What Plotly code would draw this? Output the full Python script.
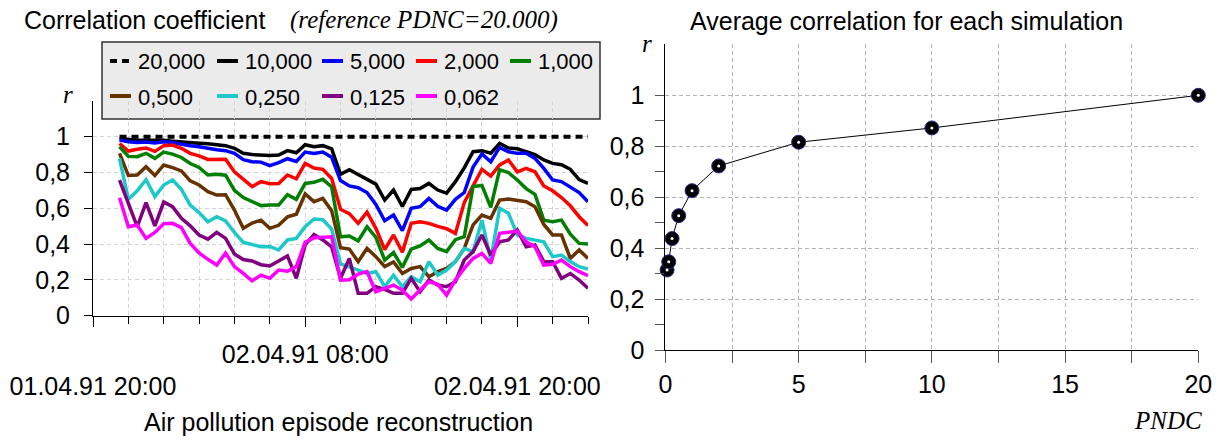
import pandas as pd
import plotly.graph_objects as go

W, H = 1218, 440

# ---------------------------------------------------------------- data
# half-hourly time stamps of the reconstructed episode
times = pd.date_range("1991-04-01 21:30", periods=54, freq="30min")

# correlation with the reference run (PDNC = 20.000) for each PDNC setting
r_20000 = [1.0] * 27 + [1.0] * 27
r_10000 = [0.990, 0.985, 0.980, 0.980, 0.980, 0.980, 0.975, 0.970, 0.968, 0.963,
           0.960, 0.955, 0.950, 0.935, 0.907, 0.900, 0.898, 0.895, 0.898, 0.922,
           0.910, 0.955, 0.944, 0.950, 0.932, 0.790, 0.815, 0.790, 0.762, 0.735,
           0.646, 0.702, 0.610, 0.705, 0.710, 0.739, 0.702, 0.685, 0.749, 0.826,
           0.916, 0.922, 0.908, 0.963, 0.937, 0.933, 0.916, 0.900, 0.870, 0.851,
           0.843, 0.818, 0.760, 0.739]
r_5000 = [0.981, 0.972, 0.968, 0.970, 0.965, 0.972, 0.968, 0.957, 0.950, 0.944,
          0.935, 0.927, 0.922, 0.907, 0.872, 0.860, 0.858, 0.838, 0.855, 0.877,
          0.862, 0.914, 0.906, 0.914, 0.885, 0.755, 0.725, 0.715, 0.688, 0.622,
          0.530, 0.562, 0.475, 0.600, 0.609, 0.655, 0.611, 0.590, 0.650, 0.688,
          0.830, 0.904, 0.860, 0.940, 0.916, 0.907, 0.907, 0.879, 0.823, 0.758,
          0.749, 0.721, 0.688, 0.637]
r_2000 = [0.962, 0.920, 0.930, 0.937, 0.918, 0.950, 0.953, 0.935, 0.907, 0.893,
          0.873, 0.874, 0.874, 0.804, 0.765, 0.721, 0.749, 0.737, 0.739, 0.786,
          0.765, 0.851, 0.825, 0.818, 0.767, 0.595, 0.570, 0.516, 0.579, 0.488,
          0.370, 0.451, 0.355, 0.516, 0.525, 0.516, 0.499, 0.486, 0.460, 0.632,
          0.725, 0.818, 0.780, 0.842, 0.870, 0.804, 0.823, 0.804, 0.725, 0.698,
          0.660, 0.614, 0.553, 0.504]
r_1000 = [0.944, 0.890, 0.888, 0.907, 0.879, 0.914, 0.903, 0.884, 0.850, 0.828,
          0.786, 0.790, 0.785, 0.700, 0.660, 0.640, 0.615, 0.618, 0.618, 0.676,
          0.650, 0.739, 0.745, 0.762, 0.720, 0.441, 0.445, 0.418, 0.497, 0.437,
          0.311, 0.353, 0.270, 0.372, 0.390, 0.423, 0.376, 0.358, 0.425, 0.441,
          0.722, 0.728, 0.605, 0.816, 0.800, 0.758, 0.710, 0.678, 0.534, 0.525,
          0.534, 0.455, 0.404, 0.400]
r_500 = [0.907, 0.783, 0.786, 0.832, 0.783, 0.842, 0.827, 0.809, 0.753, 0.730,
         0.693, 0.674, 0.676, 0.590, 0.488, 0.518, 0.534, 0.488, 0.505, 0.552,
         0.567, 0.680, 0.637, 0.655, 0.587, 0.380, 0.372, 0.302, 0.376, 0.330,
         0.274, 0.300, 0.236, 0.264, 0.274, 0.218, 0.246, 0.264, 0.302, 0.376,
         0.507, 0.562, 0.544, 0.646, 0.652, 0.646, 0.637, 0.609, 0.510, 0.451,
         0.451, 0.320, 0.367, 0.320]
r_250 = [0.879, 0.650, 0.698, 0.760, 0.665, 0.730, 0.758, 0.706, 0.618, 0.576,
         0.525, 0.553, 0.530, 0.465, 0.410, 0.397, 0.385, 0.387, 0.367, 0.423,
         0.432, 0.497, 0.540, 0.536, 0.484, 0.290, 0.274, 0.255, 0.236, 0.246,
         0.162, 0.227, 0.162, 0.218, 0.190, 0.302, 0.227, 0.255, 0.302, 0.376,
         0.358, 0.534, 0.311, 0.600, 0.572, 0.451, 0.432, 0.423, 0.413, 0.330,
         0.339, 0.302, 0.274, 0.261]
r_125 = [0.758, 0.628, 0.497, 0.632, 0.502, 0.635, 0.609, 0.544, 0.502, 0.451,
         0.428, 0.466, 0.432, 0.345, 0.314, 0.306, 0.285, 0.278, 0.306, 0.334,
         0.209, 0.395, 0.454, 0.423, 0.385, 0.209, 0.320, 0.125, 0.125, 0.162,
         0.147, 0.125, 0.125, 0.209, 0.134, 0.199, 0.171, 0.162, 0.190, 0.311,
         0.358, 0.451, 0.339, 0.413, 0.423, 0.479, 0.385, 0.395, 0.302, 0.302,
         0.209, 0.236, 0.199, 0.153]
r_062 = [0.659, 0.497, 0.507, 0.432, 0.465, 0.514, 0.516, 0.492, 0.404, 0.350,
         0.315, 0.283, 0.350, 0.274, 0.236, 0.195, 0.227, 0.209, 0.255, 0.248,
         0.274, 0.410, 0.435, 0.438, 0.441, 0.199, 0.201, 0.232, 0.246, 0.134,
         0.153, 0.171, 0.143, 0.093, 0.143, 0.190, 0.175, 0.115, 0.199, 0.264,
         0.320, 0.348, 0.292, 0.460, 0.466, 0.473, 0.413, 0.385, 0.283, 0.287,
         0.311, 0.274, 0.246, 0.223]

series_names = ["20,000", "10,000", "5,000", "2,000", "1,000",
                "0,500", "0,250", "0,125", "0,062"]
series_values = [r_20000, r_10000, r_5000, r_2000, r_1000,
                 r_500, r_250, r_125, r_062]

# time-axis labels
label_times = ["1991-04-01 20:00", "1991-04-02 08:00", "1991-04-02 20:00"]
tick_labels = ["01.04.91 20:00", "02.04.91 08:00", "02.04.91 20:00"]

# average correlation of every simulation
pndc = [0.062, 0.125, 0.25, 0.5, 1, 2, 5, 10, 20]
avg_r = [0.315, 0.347, 0.438, 0.528, 0.626, 0.723, 0.816, 0.872, 1.0]

# ---------------------------------------------------------------- styles
colors = ["#000000", "#000000", "#0000ff", "#ff0000", "#008000",
          "#663300", "#1ec8c8", "#800080", "#ff00ff"]
dashes = ["7px,5px"] + ["solid"] * 8
widths = [4] + [3.5] * 8

SANS = "Liberation Sans, Arial, sans-serif"
SERIF = "Liberation Serif, Times New Roman, serif"
FS = 25


def px(x):
    return x / W


def py(y):
    return 1 - y / H


fig = go.Figure()

for name, vals, col, dsh, wd in zip(series_names, series_values, colors, dashes, widths):
    fig.add_trace(go.Scatter(
        x=times, y=vals, name=name, mode="lines",
        line=dict(color=col, width=wd, dash=dsh),
        xaxis="x", yaxis="y", showlegend=False))

fig.add_trace(go.Scatter(
    x=pndc, y=avg_r, mode="lines+markers",
    line=dict(color="#000000", width=1),
    marker=dict(size=14, color="#000000", line=dict(color="#2a2a90", width=1)),
    xaxis="x2", yaxis="y2", showlegend=False, cliponaxis=False))
fig.add_trace(go.Scatter(
    x=pndc, y=avg_r, mode="markers",
    marker=dict(size=3, color="#ffffff"),
    xaxis="x2", yaxis="y2", showlegend=False, cliponaxis=False))

grid_light = "#d4d4d4"
grid_dark = "#b4b4b4"
minor_times = [t.strftime("%Y-%m-%d %H:%M")
               for t in pd.date_range("1991-04-01 20:00", "1991-04-03 00:00", freq="2h")]

ticktext = [(" <br>" + t) if i != 1 else t for i, t in enumerate(tick_labels)]

fig.update_layout(
    width=W, height=H,
    margin=dict(l=0, r=0, t=0, b=0, autoexpand=False),
    paper_bgcolor="#ffffff", plot_bgcolor="#ffffff",
    separators=", ",
    font=dict(family=SANS, size=FS, color="#000000"),
    xaxis=dict(
        domain=[px(93), px(588)], anchor="y", type="date", automargin=False,
        range=["1991-04-01 20:00", "1991-04-03 00:00"],
        tickmode="array", tickvals=label_times, ticktext=ticktext,
        ticks="outside", ticklen=10, tickcolor="#000000", tickwidth=1,
        ticklabelstandoff=6,
        showline=True, linecolor="#000000", linewidth=1,
        showgrid=True, gridcolor=grid_light, griddash="4px,3px", gridwidth=1,
        minor=dict(tickmode="array", tickvals=minor_times, ticks="outside", ticklen=7,
                   tickcolor="#000000", showgrid=True, gridcolor=grid_light,
                   griddash="4px,3px"),
        zeroline=False, tickfont=dict(size=FS),
    ),
    yaxis=dict(
        domain=[py(315.7), py(100.9)], anchor="x", range=[0, 1.2], automargin=False,
        tickmode="array", tickvals=[0, 0.2, 0.4, 0.6, 0.8, 1.0],
        ticks="outside", ticklen=8, tickcolor="#000000", ticklabelstandoff=9,
        showline=True, linecolor="#000000", linewidth=1,
        showgrid=True, gridcolor=grid_light, griddash="4px,3px",
        zeroline=False, tickfont=dict(size=FS),
    ),
    xaxis2=dict(
        domain=[px(665.4), px(1198.3)], anchor="y2", range=[0, 20], automargin=False,
        tickmode="array", tickvals=[0, 5, 10, 15, 20],
        ticks="outside", ticklen=12, tickcolor="#555555",
        showline=True, linecolor="#000000", linewidth=1,
        showgrid=True, gridcolor=grid_dark, griddash="4px,3px",
        minor=dict(tickmode="array", tickvals=[2.5, 7.5, 12.5, 17.5], ticks="outside",
                   ticklen=12, tickcolor="#555555", showgrid=True,
                   gridcolor=grid_dark, griddash="4px,3px"),
        zeroline=False, tickfont=dict(size=FS),
    ),
    yaxis2=dict(
        domain=[py(350.3), py(44.3)], anchor="x2", range=[0, 1.2], automargin=False,
        tickmode="array", tickvals=[0, 0.2, 0.4, 0.6, 0.8, 1.0],
        ticks="outside", ticklen=9, tickcolor="#555555", ticklabelstandoff=6,
        showline=True, linecolor="#000000", linewidth=1,
        showgrid=True, gridcolor=grid_dark, griddash="4px,3px",
        minor=dict(tickmode="array", tickvals=[0.1, 0.3, 0.5, 0.7, 0.9], ticks="outside",
                   ticklen=9, tickcolor="#555555", showgrid=False),
        zeroline=False, tickfont=dict(size=FS),
    ),
)

# ---------------------------------------------------------------- legend box
shapes = [dict(type="rect", xref="paper", yref="paper", layer="below",
               x0=px(102), x1=px(600), y0=py(119), y1=py(42),
               fillcolor="#ebebeb", line=dict(color="#333333", width=1.5))]
annotations = []
col_x = [110, 217, 322, 416, 510]
row_y = [61, 96]
for i, (name, col, dsh, wd) in enumerate(zip(series_names, colors, dashes, widths)):
    r, c = divmod(i, 5)
    x0 = col_x[c]
    y = row_y[r]
    shapes.append(dict(type="line", xref="paper", yref="paper", layer="above",
                       x0=px(x0), x1=px(x0 + 21), y0=py(y), y1=py(y),
                       line=dict(color=col, width=4, dash=dsh)))
    annotations.append(dict(xref="paper", yref="paper", x=px(x0 + 26), y=py(y + 1),
                            xanchor="left", yanchor="middle", showarrow=False,
                            text=name, font=dict(size=22)))

# ---------------------------------------------------------------- titles and axis names
annotations += [
    dict(xref="paper", yref="paper", x=px(22), y=py(20), xanchor="left", yanchor="middle",
         showarrow=False, text="Correlation coefficient", font=dict(size=FS)),
    dict(xref="paper", yref="paper", x=px(288), y=py(20), xanchor="left", yanchor="middle",
         showarrow=False, text="(reference PDNC=20.000)",
         font=dict(family=SERIF, size=FS, style="italic")),
    dict(xref="paper", yref="paper", x=px(906), y=py(21), xanchor="center", yanchor="middle",
         showarrow=False, text="Average correlation for each simulation", font=dict(size=FS)),
    dict(xref="paper", yref="paper", x=px(68), y=py(94), xanchor="center", yanchor="middle",
         showarrow=False, text="r", font=dict(family=SERIF, size=FS, style="italic")),
    dict(xref="paper", yref="paper", x=px(647), y=py(44), xanchor="center", yanchor="middle",
         showarrow=False, text="r", font=dict(family=SERIF, size=FS, style="italic")),
    dict(xref="paper", yref="paper", x=px(338), y=py(422), xanchor="center", yanchor="middle",
         showarrow=False, text="Air pollution episode reconstruction", font=dict(size=FS)),
    dict(xref="paper", yref="paper", x=px(1168), y=py(420), xanchor="center", yanchor="middle",
         showarrow=False, text="PNDC", font=dict(family=SERIF, size=FS, style="italic")),
]

fig.update_layout(shapes=shapes, annotations=annotations)

fig.write_html("out.html", config=dict(displayModeBar=False))
